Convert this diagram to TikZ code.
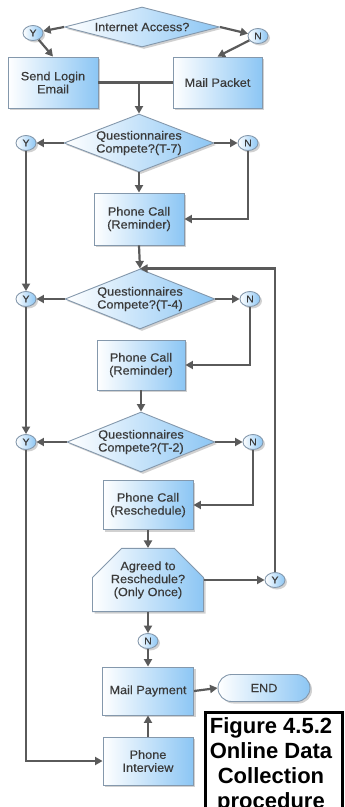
\documentclass[tikz,border=0pt]{standalone}
\usepackage{fontspec}
\setmainfont{Liberation Sans}
\newfontfamily\nodefont[FakeStretch=1.06,FakeBold=0.3]{Liberation Sans}
\usetikzlibrary{shapes.geometric,shapes.misc,shadows,arrows.meta}

\definecolor{fillblue}{HTML}{8CC6F4}
\definecolor{edgegray}{HTML}{8498AC}
\definecolor{wire}{HTML}{5A5A5A}
\definecolor{ink}{HTML}{3A3A3A}

\tikzset{
  base/.style={draw=edgegray, line width=0.9pt, left color=white, right color=fillblue,
    text=ink, align=center, font=\nodefont\fontsize{12}{13}\selectfont,
    drop shadow={shadow xshift=2pt, shadow yshift=-2pt, fill=black, opacity=0.18}},
  procbox/.style={base, rectangle, inner sep=0pt},
  decision/.style={base, diamond, aspect=2.6, inner xsep=-28pt, inner ysep=0pt},
  marker/.style={base, ellipse, inner sep=0pt, minimum width=20pt, minimum height=15pt,
    font=\nodefont\fontsize{10}{10}\selectfont},
  loopbox/.style={base, chamfered rectangle, chamfered rectangle corners={north west,north east},
    chamfered rectangle xsep=16pt, chamfered rectangle ysep=13pt, inner sep=0pt},
  terminal/.style={base, rounded rectangle, inner sep=0pt},
  link/.style={draw=wire, line width=2.2pt, -{Triangle[length=7.5pt,width=8pt]}},
  plainlink/.style={draw=wire, line width=2.2pt},
  captionbox/.style={draw=black, line width=3pt},
  captiontext/.style={font=\bfseries\fontsize{22}{25}\selectfont, align=center, inner sep=0pt}
}

\begin{document}
\begin{tikzpicture}[x=1pt, y=-1pt]
\useasboundingbox (0,0) rectangle (345,807);

% first decision and its two branches
\node[decision, minimum width=155pt, minimum height=40pt] (d0) at (142,27) {Internet Access?};
\node[marker] (y0) at (33,33) {Y};
\node[marker] (n0) at (258,36) {N};
\node[procbox, minimum width=90pt, minimum height=51pt] (send) at (53,82.5) {Send Login\\Email};
\node[procbox, minimum width=89pt, minimum height=51pt] (mail) at (217.5,82.5) {Mail Packet};
\coordinate (jn) at (139,82.5);

% T-7 check
\node[decision, minimum width=150pt, minimum height=58pt] (d1) at (139,143) {Questionnaires\\Compete?(T-7)};
\node[marker] (y1) at (26,143) {Y};
\node[marker] (n1) at (248,143) {N};
\node[procbox, minimum width=90pt, minimum height=52pt] (call1) at (139,219) {Phone Call\\(Reminder)};

% T-4 check
\node[decision, minimum width=150pt, minimum height=60pt] (d2) at (140,299) {Questionnaires\\Compete?(T-4)};
\node[marker] (y2) at (26,299) {Y};
\node[marker] (n2) at (250,299) {N};
\node[procbox, minimum width=88pt, minimum height=50pt] (call2) at (141,365) {Phone Call\\(Reminder)};

% T-2 check
\node[decision, minimum width=148pt, minimum height=60pt] (d3) at (141,442) {Questionnaires\\Compete?(T-2)};
\node[marker] (y3) at (26,442) {Y};
\node[marker] (n3) at (253,442) {N};
\node[procbox, minimum width=90pt, minimum height=49pt] (call3) at (148,505) {Phone Call\\(Reschedule)};

% reschedule loop
\node[loopbox, minimum width=111pt, minimum height=63pt] (agree) at (148,580) {Agreed to\\Reschedule?\\(Only Once)};
\node[marker] (ya) at (275,580) {Y};
\node[marker] (na) at (148,641) {N};

% closing steps
\node[procbox, minimum width=91pt, minimum height=48pt] (pay) at (148,691) {Mail Payment};
\node[terminal, minimum width=92pt, minimum height=27pt] (fin) at (264,688) {END};
\node[procbox, minimum width=90pt, minimum height=48pt] (inter) at (148,761) {Phone\\Interview};

% connectors
\draw[link] (d0.west) -- (y0);
\draw[link] (d0.east) -- (n0);
\draw[link] (y0) -- (send.north);
\draw[link] (n0) -- (mail.north);
\draw[plainlink] (send.east) -- (mail.west);
\draw[link] (jn) -- (d1.north);

\draw[link] (d1.west) -- (y1);
\draw[link] (d1.east) -- (n1);
\draw[link] (d1.south) -- (call1.north);
\draw[link] (n1.south) |- (call1.east);
\draw[link] (y1.south) -- (y2.north);
\draw[link] (call1.south) -- (d2.north);

\draw[link] (d2.west) -- (y2);
\draw[link] (d2.east) -- (n2);
\draw[link] (n2.south) |- (call2.east);
\draw[link] (y2.south) -- (y3.north);
\draw[link] (call2.south) -- (d3.north);

\draw[link] (d3.west) -- (y3);
\draw[link] (d3.east) -- (n3);
\draw[link] (n3.south) |- (call3.east);
\draw[link] (call3.south) -- (agree.north);

\draw[link] (agree.east) -- (ya);
\draw[link] (ya.north) |- (d2.north);
\draw[link] (agree.south) -- (na);
\draw[link] (na) -- (pay.north);
\draw[link] (pay.east) -- (fin.west);
\draw[link] (inter.north) -- (pay.south);
\draw[link] (y3.south) |- (inter.west);

% caption frame, cut off at the lower edge
\begin{scope}
  \clip (0,0) rectangle (345,807);
  \draw[captionbox] (205.5,712) rectangle (342.5,840);
\end{scope}
\node[captiontext, anchor=north] (cap) at (271,717.5) {Figure 4.5.2\\Online Data\\Collection\\procedure};
\end{tikzpicture}
\end{document}
